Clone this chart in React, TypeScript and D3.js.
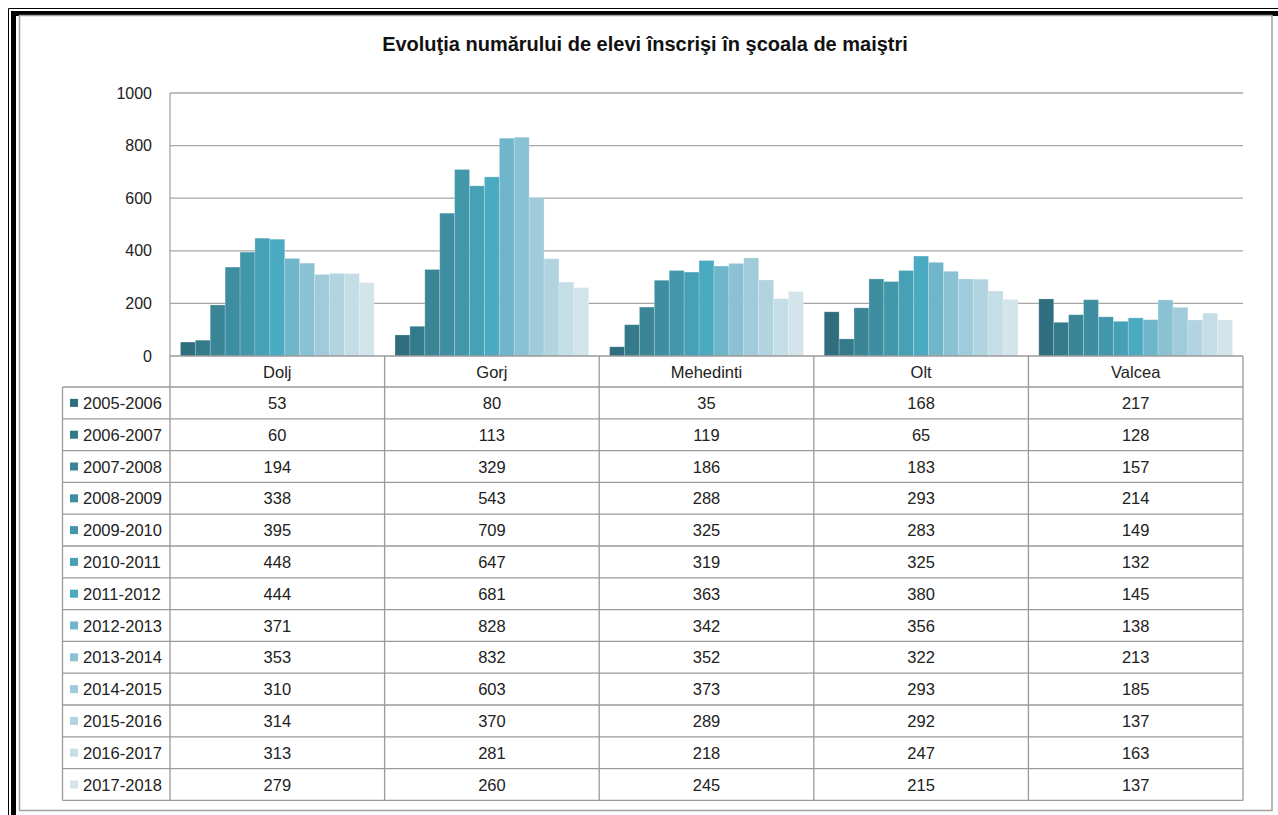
import React from "react";
import * as d3 from "d3";

const categories = ["Dolj", "Gorj", "Mehedinti", "Olt", "Valcea"];
const seriesNames = [
  "2005-2006", "2006-2007", "2007-2008", "2008-2009", "2009-2010", "2010-2011",
  "2011-2012", "2012-2013", "2013-2014", "2014-2015", "2015-2016", "2016-2017", "2017-2018",
];
const s2005 = [53, 80, 35, 168, 217];
const s2006 = [60, 113, 119, 65, 128];
const s2007 = [194, 329, 186, 183, 157];
const s2008 = [338, 543, 288, 293, 214];
const s2009 = [395, 709, 325, 283, 149];
const s2010 = [448, 647, 319, 325, 132];
const s2011 = [444, 681, 363, 380, 145];
const s2012 = [371, 828, 342, 356, 138];
const s2013 = [353, 832, 352, 322, 213];
const s2014 = [310, 603, 373, 293, 185];
const s2015 = [314, 370, 289, 292, 137];
const s2016 = [313, 281, 218, 247, 163];
const s2017 = [279, 260, 245, 215, 137];
const seriesValues = [s2005, s2006, s2007, s2008, s2009, s2010, s2011, s2012, s2013, s2014, s2015, s2016, s2017];
const colors = [
  "#2f6e7e", "#337b8b", "#3a8596", "#3e8ea1", "#4397ab", "#46a0b6", "#4aaac2",
  "#70b6cb", "#8ac1d3", "#a0cbda", "#b2d4e0", "#c4dde6", "#d3e4eb",
];
const yTicks = [0, 200, 400, 600, 800, 1000];
const title = "Evoluţia numărului de elevi înscrişi în şcoala de maiştri";

export default function App() {
  const W = 1278, H = 815;
  const left = 170, right = 1243, top = 93, bottom = 356;
  const x = d3.scaleBand<string>().domain(categories).range([left, right]).paddingInner(0).paddingOuter(0);
  const inner = d3.scaleBand<string>().domain(seriesNames).range([0, x.bandwidth()]).paddingInner(0).paddingOuter(0.7);
  const y = d3.scaleLinear().domain([0, 1000]).range([bottom, top]);
  const tableTop = 356, headerH = 31, rowH = 31.8, labelLeft = 62.5;
  const rowY = (i: number) => tableTop + headerH + i * rowH;
  const tableBottom = rowY(seriesNames.length);
  const font = "'Liberation Sans', Arial, sans-serif";
  const grid = "#a6a6a6";
  const tableLine = "#9a9a9a";
  const fs = 16.5;

  return (
    <div style={{ position: "absolute", left: 0, top: 0 }}>
      <svg width={W} height={H} style={{ display: "block", fontFamily: font }}>
        <rect x={0} y={0} width={W} height={H} fill="#fff" />
        {/* outer frame */}
        <line x1={8.5} y1={8.5} x2={W} y2={8.5} stroke="#000" strokeWidth={1} />
        <line x1={8.5} y1={8.5} x2={8.5} y2={H} stroke="#000" strokeWidth={1} />
        <rect x={11} y={11} width={W - 11} height={5} fill="#000" />
        <rect x={11} y={11} width={5} height={H - 11} fill="#000" />
        <rect x={19.5} y={15.5} width={1272 - 19.5} height={810.5 - 15.5} fill="none" stroke="#a0a0a0" strokeWidth={1.5} />

        <text x={645} y={51} textAnchor="middle" fontSize={20} fontWeight="bold" fill="#111">{title}</text>

        {/* grid */}
        {yTicks.map((t) => (
          <g key={t}>
            {t > 0 && <line x1={left} x2={right} y1={y(t)} y2={y(t)} stroke={grid} strokeWidth={1.3} />}
            <text x={152} y={y(t) + 5.5} textAnchor="end" fontSize={16} fill="#222">{t}</text>
          </g>
        ))}
        <line x1={left} x2={left} y1={top} y2={bottom} stroke={grid} strokeWidth={1.3} />

        {/* bars */}
        {categories.map((c, ci) => (
          <g key={c} transform={`translate(${x(c)},0)`}>
            {seriesNames.map((s, si) => {
              const v = seriesValues[si][ci];
              return (
                <rect key={s} x={inner(s)} y={y(v)} width={inner.bandwidth()} height={y(0) - y(v)}
                  fill={colors[si]} stroke="#ffffff" strokeOpacity={0.25} strokeWidth={0.8} />
              );
            })}
          </g>
        ))}

        {/* data table */}
        <line x1={left} x2={right} y1={tableTop} y2={tableTop} stroke={tableLine} strokeWidth={1.3} />
        {categories.map((c) => (
          <text key={c} x={x(c)! + x.bandwidth() / 2} y={tableTop + 22} textAnchor="middle" fontSize={fs} fill="#222">{c}</text>
        ))}
        {seriesNames.map((s, si) => (
          <g key={s}>
            <line x1={labelLeft} x2={right} y1={rowY(si)} y2={rowY(si)} stroke={tableLine} strokeWidth={1.3} />
            <rect x={70} y={rowY(si) + rowH / 2 - 4} width={8} height={8} fill={colors[si]} />
            <text x={83} y={rowY(si) + rowH / 2 + 6} fontSize={fs} fill="#222">{s}</text>
            {categories.map((c, ci) => (
              <text key={c} x={x(c)! + x.bandwidth() / 2} y={rowY(si) + rowH / 2 + 6} textAnchor="middle" fontSize={fs} fill="#222">
                {seriesValues[si][ci]}
              </text>
            ))}
          </g>
        ))}
        <line x1={labelLeft} x2={right} y1={tableBottom} y2={tableBottom} stroke={tableLine} strokeWidth={1.3} />
        <line x1={labelLeft} x2={labelLeft} y1={rowY(0)} y2={tableBottom} stroke={tableLine} strokeWidth={1.3} />
        {[...categories.map((c) => x(c)!), right].map((xx, i) => (
          <line key={i} x1={xx} x2={xx} y1={tableTop} y2={tableBottom} stroke={tableLine} strokeWidth={1.3} />
        ))}
      </svg>
    </div>
  );
}
